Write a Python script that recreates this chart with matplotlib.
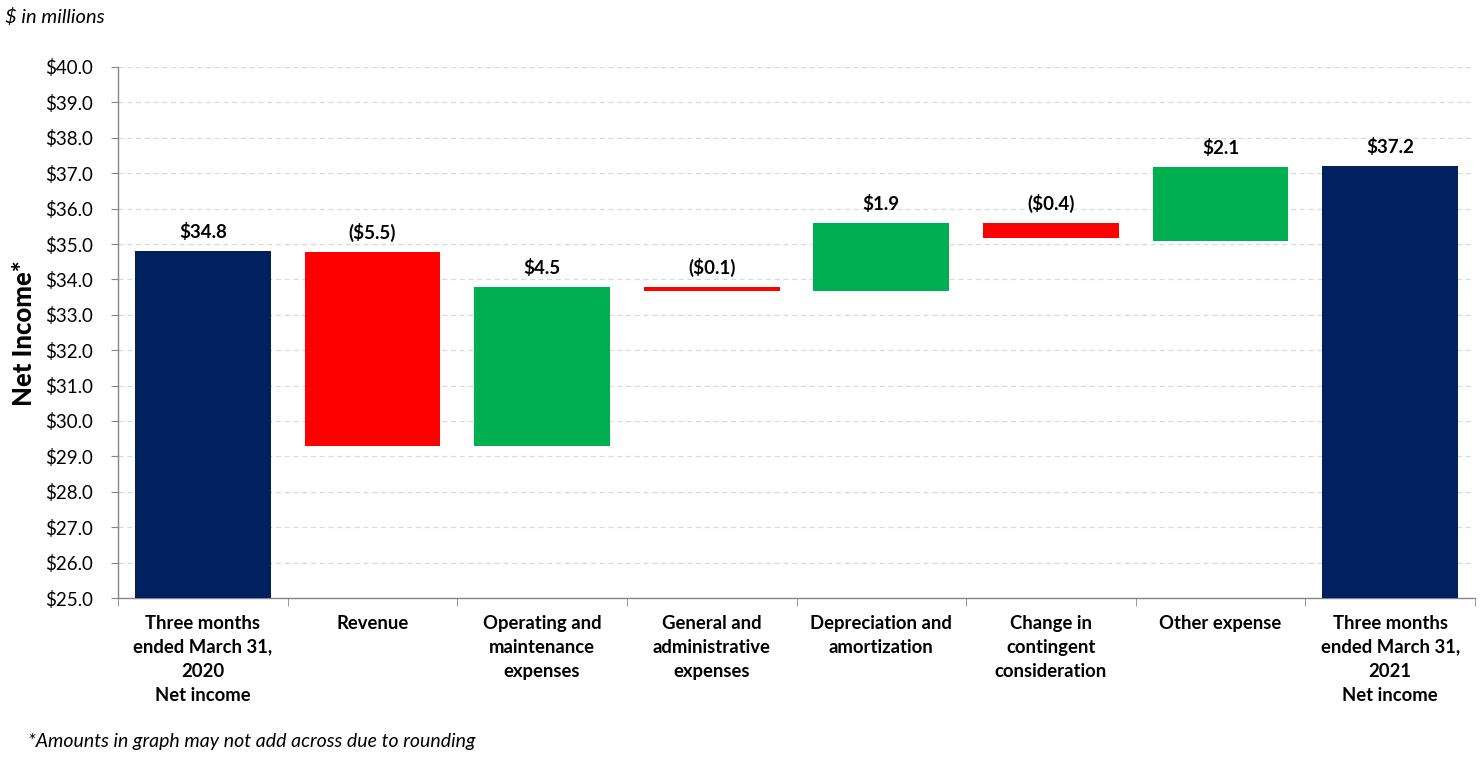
import matplotlib
matplotlib.use("Agg")
import matplotlib.pyplot as plt
from matplotlib.ticker import FixedLocator, NullFormatter

plt.rcParams['font.family'] = ['Lato', 'DejaVu Sans']

categories = ["Three months\nended March 31,\n2020\nNet income", "Revenue",
              "Operating and\nmaintenance\nexpenses", "General and\nadministrative\nexpenses",
              "Depreciation and\namortization", "Change in\ncontingent\nconsideration",
              "Other expense", "Three months\nended March 31,\n2021\nNet income"]
bar_start = [25.0, 34.77, 29.29, 33.79, 33.68, 35.60, 35.09, 25.0]
bar_end = [34.8, 29.29, 33.79, 33.67, 35.60, 35.18, 37.18, 37.2]
value_labels = ["$34.8", "($5.5)", "$4.5", "($0.1)", "$1.9", "($0.4)", "$2.1", "$37.2"]
kinds = ["total", "dec", "inc", "dec", "inc", "dec", "inc", "total"]
yticks = [25 + i for i in range(16)]

colors = {"total": "#002060", "dec": "#FF0000", "inc": "#00B050"}

fig = plt.figure(figsize=(14.83, 7.58), dpi=100)
ax = fig.add_axes([118/1483, 160/758, (1475-118)/1483, (598-67)/758])

x = list(range(len(categories)))
for i in x:
    lo = min(bar_start[i], bar_end[i])
    hi = max(bar_start[i], bar_end[i])
    ax.bar(i, hi - lo, bottom=lo, width=0.8, color=colors[kinds[i]], zorder=3)
    ax.annotate(value_labels[i], (i, hi), xytext=(0, 7), textcoords="offset points",
                ha="center", va="bottom", fontsize=13.5, fontweight="bold", color="black")

ax.set_xlim(-0.5, len(categories) - 0.5)
ax.set_ylim(25, 40)
ax.set_yticks(yticks)
ax.set_yticklabels([f"${v:.1f}" for v in yticks], fontsize=13.5)
ax.yaxis.grid(True, linestyle=(0, (4, 3)), color="#D9D9D9", linewidth=0.9, zorder=0)
ax.set_axisbelow(True)

ax.set_xticks(x)
ax.set_xticklabels(categories, fontsize=13.3, fontweight="bold", linespacing=1.5)
ax.tick_params(axis="x", which="major", length=0, pad=12)
ax.xaxis.set_minor_locator(FixedLocator([i - 0.5 for i in range(len(categories) + 1)]))
ax.xaxis.set_minor_formatter(NullFormatter())
ax.tick_params(axis="x", which="minor", length=6, color="#868686", direction="out")
ax.tick_params(axis="y", length=5, color="#868686", direction="out", pad=13)

for s in ["top", "right"]:
    ax.spines[s].set_visible(False)
for s in ["left", "bottom"]:
    ax.spines[s].set_color("#868686")
    ax.spines[s].set_linewidth(1.0)

fig.text(24/1483, 1 - 333/758, "Net Income*", rotation=90, ha="center", va="center",
         fontsize=18.5, fontweight="black")
fig.text(5/1483, 1 - 17/758, "$ in millions", ha="left", va="center", fontsize=14.5, style="italic")
fig.text(28/1483, 1 - 742/758, "*Amounts in graph may not add across due to rounding",
         ha="left", va="center", fontsize=14, style="italic")

fig.savefig("out.png", dpi=100)
